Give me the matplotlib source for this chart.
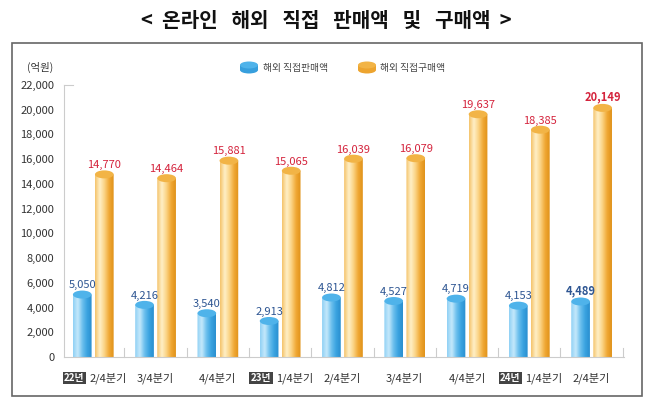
import numpy as np
import matplotlib
matplotlib.use("Agg")
import matplotlib.pyplot as plt
from matplotlib.colors import LinearSegmentedColormap
from matplotlib.patches import Ellipse, PathPatch, Rectangle
from matplotlib.path import Path

plt.rcParams['font.family'] = ['Noto Sans CJK KR', 'DejaVu Sans']

# data (억원)
years = ['22년', '', '', '23년', '', '', '', '24년', '']
quarters = ['2/4분기', '3/4분기', '4/4분기', '1/4분기', '2/4분기', '3/4분기', '4/4분기', '1/4분기', '2/4분기']
sales = [5050, 4216, 3540, 2913, 4812, 4527, 4719, 4153, 4489]
purchases = [14770, 14464, 15881, 15065, 16039, 16079, 19637, 18385, 20149]
yticks = list(range(0, 22001, 2000))

BLUE_TXT = '#2d5592'
RED_TXT = '#d4233c'
blue_cmap = LinearSegmentedColormap.from_list('b', ['#8fd0f5', '#c6e9fb', '#6cc0ee', '#3aa3e0', '#2a8fd0'])
orange_cmap = LinearSegmentedColormap.from_list('o', ['#f4c36a', '#fff0c8', '#fbd384', '#f0a834', '#e0921a'])
BLUE_TOP = '#4fb3ea'
ORANGE_TOP = '#f2b446'

fig = plt.figure(figsize=(6.58, 4.08), dpi=100)
W, H = 658, 408
ax = fig.add_axes([64 / W, 1 - 357 / H, (624 - 64) / W, (357 - 85) / H])

# outer frame
fig.add_artist(Rectangle((12 / W, 1 - 396 / H), (642 - 12) / W, (396 - 43) / H,
                         transform=fig.transFigure, fill=False, edgecolor='#666666', lw=1.2))

fig.text(0.496, 1 - 20 / H, '<  온라인   해외   직접   판매액   및   구매액  >', ha='center', va='center',
         fontsize=14.5, fontweight='bold', color='#111111')

ax.set_xlim(-0.47, 8.52)
ax.set_ylim(0, 22000)
bw = 0.30
off = 0.177
cap_h = 8 * 22000 / 272  # ellipse height in data units (~8px)
grad = np.linspace(0, 1, 64).reshape(1, -1)


def cylinder(xc, val, cmap, top_color):
    x0, x1 = xc - bw / 2, xc + bw / 2
    t = np.linspace(np.pi, 2 * np.pi, 30)
    bx = xc + bw / 2 * np.cos(t)
    by = cap_h / 2 * np.sin(t)
    verts = [(x0, val)] + list(zip(bx, by)) + [(x1, val), (x0, val)]
    codes = [Path.MOVETO] + [Path.LINETO] * (len(verts) - 2) + [Path.CLOSEPOLY]
    body = PathPatch(Path(verts, codes), facecolor='none', edgecolor='none')
    ax.add_patch(body)
    im = ax.imshow(grad, cmap=cmap, extent=[x0, x1, -cap_h, val], aspect='auto',
                   interpolation='bicubic', zorder=2)
    im.set_clip_path(body)
    ax.add_patch(Ellipse((xc, val), bw, cap_h, facecolor=top_color, edgecolor='none', zorder=3))


for i in range(len(quarters)):
    cylinder(i - off, sales[i], blue_cmap, BLUE_TOP)
    cylinder(i + off, purchases[i], orange_cmap, ORANGE_TOP)
    last = i == len(quarters) - 1
    ax.annotate(f'{sales[i]:,}', (i - off, sales[i]), xytext=(0, 3), textcoords='offset points',
                ha='center', va='bottom', fontsize=8, color=BLUE_TXT,
                fontweight='bold' if last else 'normal')
    ax.annotate(f'{purchases[i]:,}', (i + off, purchases[i]), xytext=(0, 3), textcoords='offset points',
                ha='center', va='bottom', fontsize=8, color=RED_TXT,
                fontweight='bold' if last else 'normal')

# group separators on the x axis
for i in range(len(quarters)):
    ax.plot([i + 0.5, i + 0.5], [0, 700], color='#cccccc', lw=0.8, zorder=1, clip_on=False)

ax.set_yticks(yticks)
ax.set_yticklabels([f'{v:,}' for v in yticks], fontsize=8, color='#333333')
ax.tick_params(axis='y', length=0, pad=7)
ax.set_xticks([])
for s in ['top', 'right']:
    ax.spines[s].set_visible(False)
ax.spines['left'].set_color('#cccccc')
ax.spines['bottom'].set_color('#cccccc')
ax.plot([-0.47, -0.33], [22000, 22000], color='#cccccc', lw=0.8, clip_on=False)
ax.text(-0.64, 23000, '(억원)', ha='right', va='bottom', fontsize=7.5, color='#333333')

# x labels
for i, q in enumerate(quarters):
    if years[i]:
        ax.annotate(years[i], (i, 0), xytext=(-19, -21), textcoords='offset pixels', ha='center',
                    va='center', fontsize=7, color='white', fontweight='bold',
                    bbox=dict(boxstyle='square,pad=0.15', fc='#444444', ec='none'))
        ax.annotate(q, (i, 0), xytext=(-4, -21), textcoords='offset pixels', ha='left',
                    va='center', fontsize=8, color='#333333')
    else:
        ax.annotate(q, (i, 0), xytext=(0, -21), textcoords='offset pixels', ha='center',
                    va='center', fontsize=8, color='#333333')


# legend
def legend_icon(cx, cy, cmap, top_color):
    w, h = 18 / W, 7 / H
    body = Rectangle((cx - w / 2, cy - 5 / H), w, 5 / H, transform=fig.transFigure,
                     facecolor=cmap(0.8), edgecolor='none')
    bottom = Ellipse((cx, cy - 5 / H), w, h, transform=fig.transFigure, facecolor=cmap(0.8), edgecolor='none')
    top = Ellipse((cx, cy), w, h, transform=fig.transFigure, facecolor=top_color, edgecolor='none')
    for p in (bottom, body, top):
        fig.add_artist(p)


legend_icon(249 / W, 1 - 65 / H, blue_cmap, BLUE_TOP)
fig.text(263 / W, 1 - 68 / H, '해외 직접판매액', fontsize=7, color='#444444', va='center')
legend_icon(367 / W, 1 - 65 / H, orange_cmap, ORANGE_TOP)
fig.text(380 / W, 1 - 68 / H, '해외 직접구매액', fontsize=7, color='#444444', va='center')

fig.savefig('out.png', dpi=100)
